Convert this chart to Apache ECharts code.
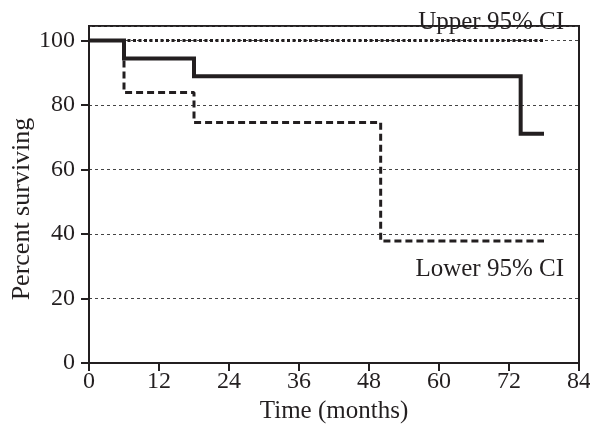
<!DOCTYPE html>
<html>
<head>
<meta charset="utf-8">
<script src="https://cdn.jsdelivr.net/npm/echarts@6/dist/echarts.min.js"></script>
<style>
  html, body { margin: 0; padding: 0; background: #fff; }
  #chart { width: 590px; height: 426px; }
</style>
</head>
<body>
<div id="chart"></div>
<script>
// survival estimate (solid) and 95% CI bounds
const survTimes = [0, 6, 18, 74, 78]
const survValues = [100, 94.4, 88.9, 71.1, 71.1]
const lowerTimes = [0, 6, 18, 50, 78]
const lowerValues = [100, 83.9, 74.6, 37.8, 37.8]
const upperTimes = [0, 78]
const upperValues = [100, 100]
const xTicks = [0, 12, 24, 36, 48, 60, 72, 84]
const yTicks = [0, 20, 40, 60, 80, 100]

const font = 'Liberation Serif'
const ink = '#231f20'

function pairs(xs, ys) {
  return xs.map((x, i) => [x, ys[i]])
}

const chart = echarts.init(document.getElementById('chart'))
chart.setOption({
  animation: false,
  grid: {
    left: 89,
    right: 11,
    top: 26,
    bottom: 63,
    outerBoundsMode: 'none',
    containLabel: false,
    show: true,
    borderColor: ink,
    borderWidth: 2
  },
  xAxis: {
    type: 'value',
    min: 0,
    max: 84,
    interval: 12,
    name: 'Time (months)',
    nameLocation: 'middle',
    nameGap: 31,
    nameTextStyle: { fontFamily: font, fontSize: 25, color: ink },
    axisLine: { lineStyle: { color: ink, width: 2 } },
    axisTick: { length: 8, lineStyle: { color: ink, width: 2 } },
    axisLabel: {
      margin: 7,
      fontFamily: font,
      fontSize: 24,
      color: ink,
      formatter: v => (xTicks.indexOf(v) >= 0 ? String(v) : '')
    },
    splitLine: { show: false }
  },
  yAxis: {
    type: 'value',
    min: 0,
    max: 104.5,
    interval: 20,
    axisLine: { lineStyle: { color: ink, width: 2 } },
    axisTick: {
      length: 8,
      lineStyle: { color: ink, width: 2 },
      interval: (i, v) => yTicks.indexOf(Number(v)) >= 0
    },
    axisLabel: {
      margin: 14,
      fontFamily: font,
      fontSize: 24,
      color: ink,
      showMaxLabel: false,
      formatter: v => (yTicks.indexOf(v) >= 0 ? String(v) : '')
    },
    splitLine: {
      show: true,
      lineStyle: { color: '#444', width: 1, type: [3, 3] }
    }
  },
  graphic: [
    {
      // y-axis title, centred a little below the box middle as in the original
      type: 'text',
      x: 22,
      y: 209,
      rotation: Math.PI / 2,
      style: {
        text: 'Percent surviving',
        font: '26px "Liberation Serif"',
        fill: ink,
        align: 'center',
        verticalAlign: 'middle'
      }
    },
    {
      type: 'text',
      x: 564,
      y: 22,
      z: 100,
      style: {
        text: 'Upper 95% CI',
        font: '25px "Liberation Serif"',
        fill: ink,
        align: 'right',
        verticalAlign: 'middle'
      }
    },
    {
      type: 'text',
      x: 564,
      y: 269,
      z: 100,
      style: {
        text: 'Lower 95% CI',
        font: '25px "Liberation Serif"',
        fill: ink,
        align: 'right',
        verticalAlign: 'middle'
      }
    }
  ],
  series: [
    {
      name: 'Upper 95% CI',
      type: 'line',
      step: 'end',
      symbol: 'none',
      z: 3,
      lineStyle: { color: ink, width: 3, type: [3, 2.5] },
      data: pairs(upperTimes, upperValues)
    },
    {
      name: 'Lower 95% CI',
      type: 'line',
      step: 'end',
      symbol: 'none',
      z: 4,
      lineStyle: { color: ink, width: 3, type: [7, 4] },
      data: pairs(lowerTimes, lowerValues)
    },
    {
      name: 'Survival',
      type: 'line',
      step: 'end',
      symbol: 'none',
      z: 5,
      lineStyle: { color: ink, width: 4, cap: 'butt', join: 'miter' },
      data: pairs(survTimes, survValues)
    }
  ]
})
</script>
</body>
</html>
